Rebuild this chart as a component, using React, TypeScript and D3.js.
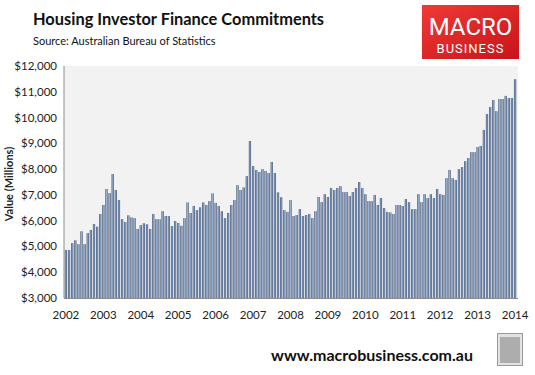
import React from 'react';
import * as d3 from 'd3';

// Monthly investor housing finance commitments, $ millions, Jan 2002 - Jan 2014
const startYear = 2002;
const values: number[] = [
  4860, 4860, 5130, 5240, 5090, 5590, 5090, 5520, 5640, 5870, 5770, 6260,
  6610, 7230, 7070, 7810, 7190, 6800, 6060, 5950, 6210, 6130, 6100, 5680,
  5830, 5900, 5860, 5680, 6260, 6060, 6060, 6370, 6180, 6180, 5790, 5990,
  5910, 5800, 6100, 6710, 6300, 6570, 6410, 6520, 6710, 6610, 6760, 7060,
  6690, 6570, 6370, 6100, 6300, 6610, 6800, 7380, 7190, 7290, 7730, 9090,
  8120, 7970, 7890, 8000, 7930, 7850, 8280, 7850, 7100, 6910, 6410, 6340,
  6800, 6180, 6220, 6450, 6180, 6220, 6260, 6100, 6370, 6920, 6720, 7030,
  6920, 7270, 7190, 7270, 7340, 7110, 7110, 6960, 7110, 7270, 7500, 7270,
  7030, 6760, 6760, 7000, 6610, 6880, 6490, 6340, 6320, 6260, 6610, 6610,
  6570, 6840, 6720, 6450, 6450, 7030, 6720, 7030, 6880, 7030, 6880, 7230,
  7030, 7000, 7650, 7970, 7650, 7580, 8000, 8080, 8310, 8430, 8660, 8660,
  8860, 8900, 9520, 10140, 10410, 10680, 10250, 10720, 10720, 10840, 10760, 10760,
  11490,
];
const yearLabels = ['2002', '2003', '2004', '2005', '2006', '2007', '2008', '2009', '2010', '2011', '2012', '2013', '2014'];
const yTicks = [3000, 4000, 5000, 6000, 7000, 8000, 9000, 10000, 11000, 12000];

const W = 535;
const H = 375;
const plot = { left: 64, right: 518, top: 66, bottom: 298 };
const font = 'Lato, "Open Sans", sans-serif';

export default function App() {
  const idx = values.map((_, i) => i);
  const x = d3.scaleBand<number>()
    .domain(idx)
    .range([plot.left + 0.5, plot.right - 1.5])
    .paddingInner(0.28)
    .paddingOuter(0.1);
  const y = d3.scaleLinear().domain([3000, 12000]).range([plot.bottom, plot.top]);
  const fmt = d3.format('$,');

  return (
    <svg width={W} height={H} style={{ position: 'absolute', left: 0, top: 0, background: '#fff' }}>
      <defs>
        <linearGradient id="barGrad" x1="0" x2="1" y1="0" y2="0">
          <stop offset="0" stopColor="#34476a" />
          <stop offset="0.5" stopColor="#9ab2d4" />
          <stop offset="1" stopColor="#34476a" />
        </linearGradient>
        <linearGradient id="logoGrad" x1="0" x2="1" y1="0" y2="1">
          <stop offset="0" stopColor="#f03a35" />
          <stop offset="1" stopColor="#c8141a" />
        </linearGradient>
      </defs>

      {/* title block */}
      <text x={33} y={25} fontFamily={font} fontWeight="bold" fontSize={16.4} fill="#111">
        Housing Investor Finance Commitments
      </text>
      <text x={33} y={45} fontFamily={font} fontSize={11} fill="#111">
        Source: Australian Bureau of Statistics
      </text>

      {/* logo */}
      <rect x={422} y={5} width={97} height={54} fill="url(#logoGrad)" />
      <text x={470.5} y={35} textAnchor="middle" fontFamily={'"Liberation Sans Narrow", Roboto, sans-serif'} fontSize={24} fill="#fff">MACRO</text>
      <text x={470.5} y={53} textAnchor="middle" fontFamily={'Roboto, sans-serif'} fontSize={13} fill="#fff" letterSpacing="1">BUSINESS</text>

      {/* plot background */}
      <rect x={plot.left} y={plot.top} width={plot.right - plot.left} height={plot.bottom - plot.top} fill="#f2f2f2" />

      {/* bars */}
      {values.map((v, i) => (
        <rect key={i} x={x(i)} y={y(v)} width={x.bandwidth()} height={plot.bottom - y(v)} fill="url(#barGrad)" />
      ))}

      {/* axes */}
      <line x1={plot.left} x2={plot.left} y1={plot.top} y2={plot.bottom} stroke="#8c8c8c" />
      <line x1={plot.left} x2={plot.right} y1={plot.bottom + 0.5} y2={plot.bottom + 0.5} stroke="#8c8c8c" />
      {yTicks.map(t => (
        <text key={t} x={57} y={y(t) + 4} textAnchor="end" fontFamily={font} fontSize={11.5} fill="#222">
          {fmt(t)}
        </text>
      ))}
      {yearLabels.map((lab, k) => (
        <text key={lab} x={(x(k * 12) ?? 0) + x.bandwidth() / 2} y={319} textAnchor="middle" fontFamily={font} fontSize={11.5} fill="#222">
          {lab}
        </text>
      ))}
      <text transform={`translate(13,${(plot.top + plot.bottom) / 2 + 2}) rotate(-90)`} textAnchor="middle" fontFamily={font} fontWeight="bold" fontSize={11} fill="#222">
        Value (Millions)
      </text>

      {/* footer */}
      <text x={372} y={361} textAnchor="middle" fontFamily={font} fontWeight="bold" fontSize={16} fill="#111">
        www.macrobusiness.com.au
      </text>
      <rect x={497.5} y={333.5} width={25} height={32} fill="#e2e2e2" stroke="#9a9a9a" />
      <rect x={500} y={337} width={20} height={26} fill="#8a8a8a" opacity={0.6} />
    </svg>
  );
}
